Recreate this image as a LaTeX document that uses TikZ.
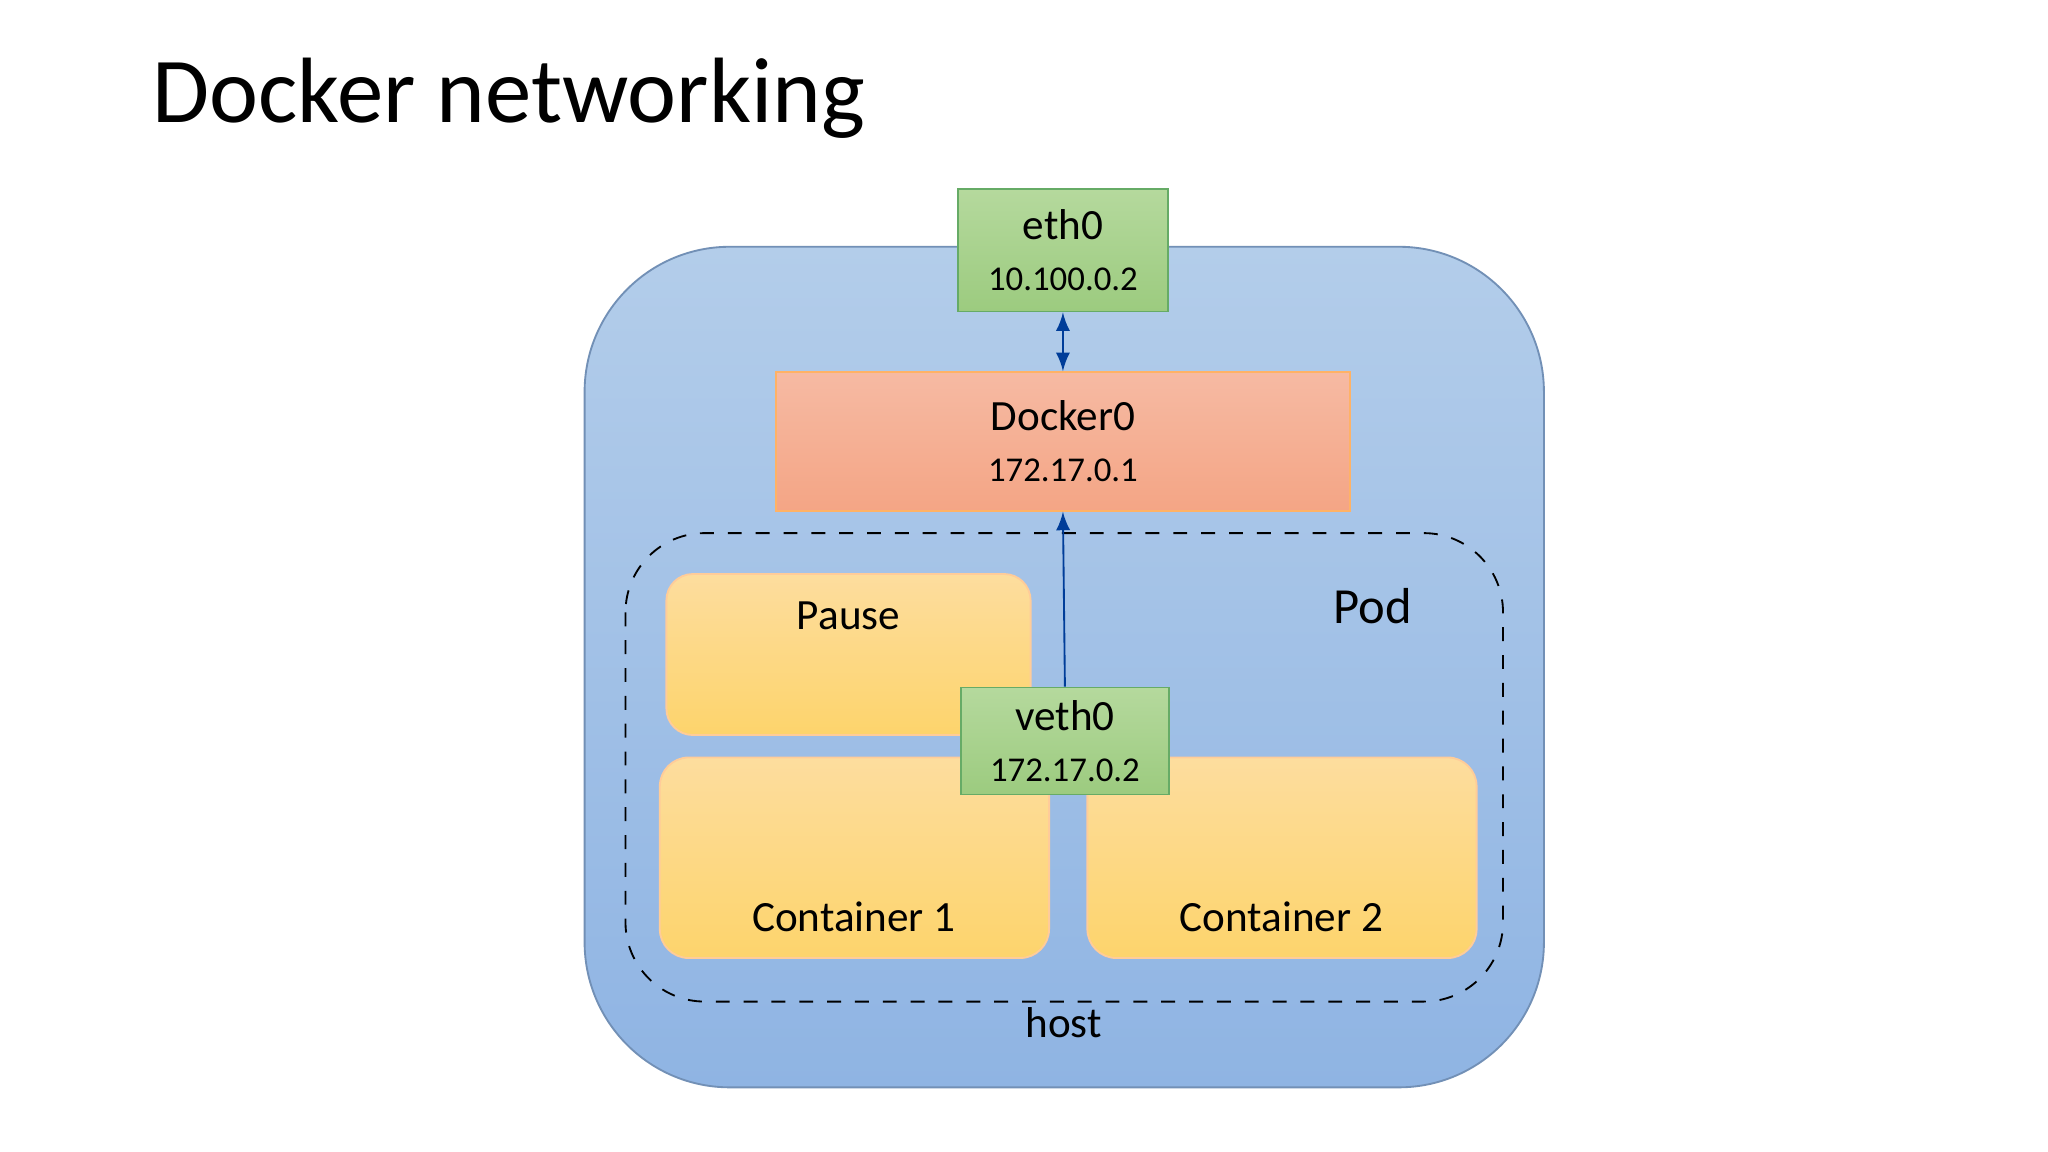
\documentclass[tikz,border=0pt]{standalone}
\usepackage{fontspec}
\setmainfont{Carlito}
\tikzset{
  link/.style={draw=blue!60!cyan!60!black, thin, -latex},
  big/.style={font=\fontsize{9.3}{12}\selectfont},
}
\definecolor{hosttop}{HTML}{B3CDEA}
\definecolor{hostbot}{HTML}{8FB4E3}
\definecolor{ethtop}{HTML}{B5D99D}
\definecolor{ethbot}{HTML}{9CCB7F}
\definecolor{doctop}{HTML}{F6BAA3}
\definecolor{docbot}{HTML}{F4A585}
\definecolor{yeltop}{HTML}{FDDD9E}
\definecolor{yelbot}{HTML}{FDD46C}
\tikzset{
  greenbox/.style={draw=green!45!black!60, top color=ethtop, bottom color=ethbot, align=center, inner sep=0pt},
  yellowbox/.style={draw=orange!40, top color=yeltop, bottom color=yelbot},
}
\newcommand{\twolines}[2]{{\fontsize{9.3}{13}\selectfont #1}\\[-1pt]{\fontsize{7.5}{11}\selectfont #2}}
\begin{document}
\begin{tikzpicture}[x=0.01cm, y=-0.01cm]
  \useasboundingbox (0,0) rectangle (1552,873);
  \fill[white] (0,0) rectangle (1552,873);
  % title
  \node[anchor=base west, font=\fontsize{20}{24}\selectfont, inner sep=0pt] (title) at (115,93) {Docker networking};
  % host
  \draw[draw=hostbot!80!black, top color=hosttop, bottom color=hostbot, rounded corners=1.1cm] (443,187) rectangle (1170,824);
  \node[big] (host) at (806,775) {host};
  % interfaces
  \node[greenbox, minimum width=1.59cm, minimum height=0.93cm] (eth) at (805.5,189.5) {\twolines{eth0}{10.100.0.2}};
  \node[draw=orange!60, top color=doctop, bottom color=docbot, minimum width=4.35cm, minimum height=1.05cm, align=center, inner sep=0pt] (docker) at (805.5,334.5)
    {\twolines{Docker0}{172.17.0.1}};
  % pod
  \draw[dashed, rounded corners=0.6cm] (474,404) rectangle (1139,759);
  \node[font=\fontsize{10.9}{13}\selectfont] (pod) at (1040,459) {Pod};
  \draw[yellowbox, rounded corners=0.2cm] (505,435) rectangle (781,557);
  \node[big] (pause) at (643,467) {Pause};
  \draw[yellowbox, rounded corners=0.22cm] (500,574) rectangle (795,726);
  \node[big] (c1) at (647,695) {Container 1};
  \draw[yellowbox, rounded corners=0.22cm] (824,574) rectangle (1119,726);
  \node[big] (c2) at (971,695) {Container 2};
  \node[greenbox, minimum width=1.58cm, minimum height=0.81cm] (veth) at (807,561.5) {\twolines{veth0}{172.17.0.2}};
  % links
  \draw[link, latex-latex] (eth.south) -- (docker.north);
  \draw[link] (veth.north) -- (docker.south);
\end{tikzpicture}
\end{document}
